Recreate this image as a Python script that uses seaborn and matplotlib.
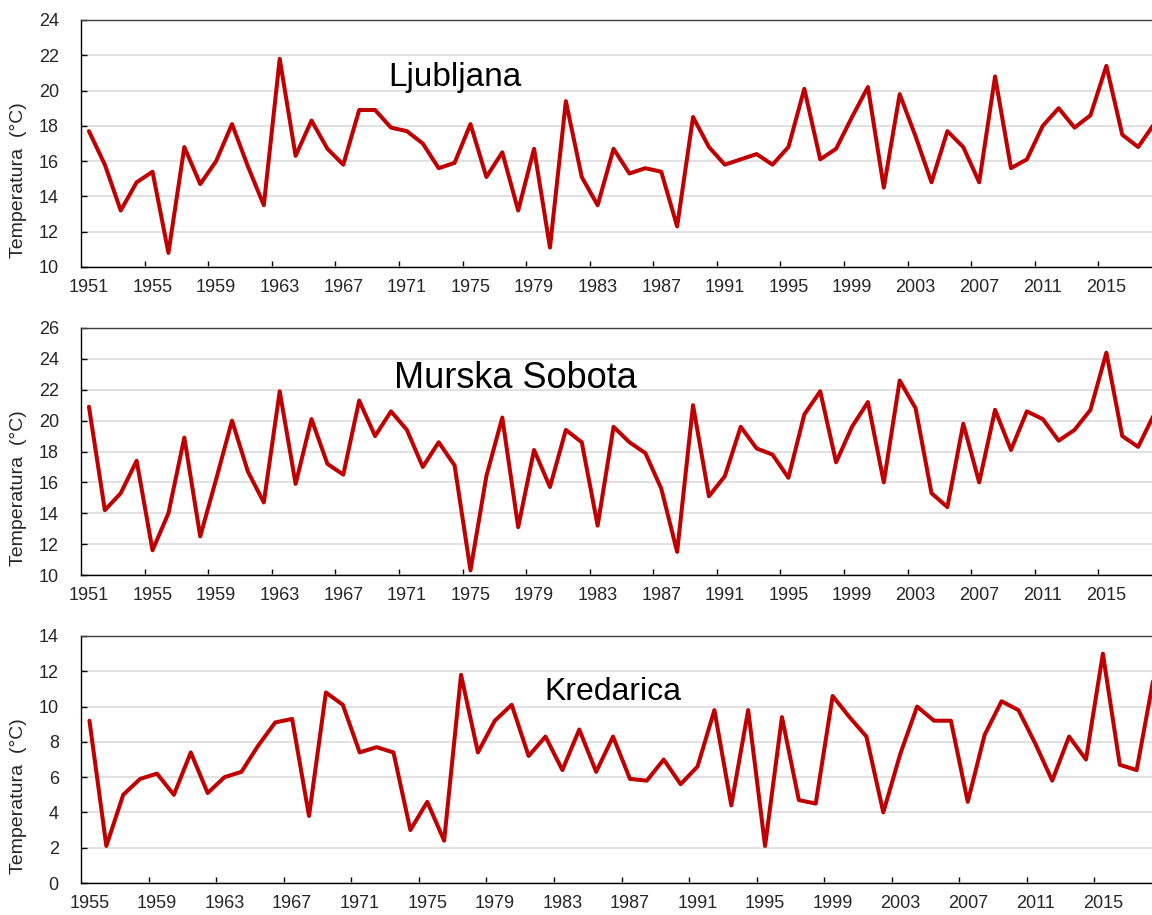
import numpy as np
import pandas as pd
import matplotlib
matplotlib.use("Agg")
import matplotlib.pyplot as plt
import seaborn as sns

ljubljana_years = list(range(1951, 2019))
ljubljana = [17.7, 15.8, 13.2, 14.8, 15.4, 10.8, 16.8, 14.7, 16.0, 18.1,
             15.7, 13.5, 21.8, 16.3, 18.3, 16.7, 15.8, 18.9, 18.9, 17.9,
             17.7, 17.0, 15.6, 15.9, 18.1, 15.1, 16.5, 13.2, 16.7, 11.1,
             19.4, 15.1, 13.5, 16.7, 15.3, 15.6, 15.4, 12.3, 18.5, 16.8,
             15.8, 16.1, 16.4, 15.8, 16.8, 20.1, 16.1, 16.7, 18.5, 20.2,
             14.5, 19.8, 17.4, 14.8, 17.7, 16.8, 14.8, 20.8, 15.6, 16.1,
             18.0, 19.0, 17.9, 18.6, 21.4, 17.5, 16.8, 18.1]

murska_years = list(range(1951, 2019))
murska = [20.9, 14.2, 15.3, 17.4, 11.6, 14.0, 18.9, 12.5, 16.2, 20.0,
          16.7, 14.7, 21.9, 15.9, 20.1, 17.2, 16.5, 21.3, 19.0, 20.6,
          19.4, 17.0, 18.6, 17.1, 10.3, 16.4, 20.2, 13.1, 18.1, 15.7,
          19.4, 18.6, 13.2, 19.6, 18.6, 17.9, 15.6, 11.5, 21.0, 15.1,
          16.4, 19.6, 18.2, 17.8, 16.3, 20.4, 21.9, 17.3, 19.6, 21.2,
          16.0, 22.6, 20.8, 15.3, 14.4, 19.8, 16.0, 20.7, 18.1, 20.6,
          20.1, 18.7, 19.4, 20.7, 24.4, 19.0, 18.3, 20.4]

kredarica_years = list(range(1955, 2019))
kredarica = [9.2, 2.1, 5.0, 5.9, 6.2, 5.0, 7.4, 5.1, 6.0, 6.3,
             7.8, 9.1, 9.3, 3.8, 10.8, 10.1, 7.4, 7.7, 7.4, 3.0,
             4.6, 2.4, 11.8, 7.4, 9.2, 10.1, 7.2, 8.3, 6.4, 8.7,
             6.3, 8.3, 5.9, 5.8, 7.0, 5.6, 6.6, 9.8, 4.4, 9.8,
             2.1, 9.4, 4.7, 4.5, 10.6, 9.4, 8.3, 4.0, 7.3, 10.0,
             9.2, 9.2, 4.6, 8.4, 10.3, 9.8, 7.9, 5.8, 8.3, 7.0,
             13.0, 6.7, 6.4, 11.6]

stations = [
    ("Ljubljana", ljubljana_years, ljubljana, (10, 24), (0.346, 0.768), 24),
    ("Murska Sobota", murska_years, murska, (10, 26), (0.402, 0.797), 26),
    ("Kredarica", kredarica_years, kredarica, (0, 14), (0.492, 0.773), 23),
]

sns.set_style("white")
plt.rcParams['font.family'] = ['Liberation Sans', 'DejaVu Sans']

fig = plt.figure(figsize=(11.52, 9.15), dpi=100)
tops = [20, 328, 636]
line_color = "#C00000"

for (name, years, temps, ylim, txt, fs), top in zip(stations, tops):
    left, right, h = 81, 1162, 247
    ax = fig.add_axes([left / 1152, 1 - (top + h) / 915, (right - left) / 1152, h / 915])
    df = pd.DataFrame({"pos": np.arange(len(years)), "temp": temps})
    sns.lineplot(data=df, x="pos", y="temp", ax=ax, color=line_color, linewidth=2.9)

    ax.set_xlim(-0.5, len(years) - 0.5)
    ax.set_ylim(*ylim)
    ax.set_yticks(np.arange(ylim[0], ylim[1] + 1, 2))
    ax.yaxis.grid(True, color="#d9d9d9", linewidth=1.1)
    ax.set_axisbelow(True)

    # labels every 4 years, tick marks between categories
    label_pos = np.arange(0, len(years), 4)
    ax.set_xticks(label_pos)
    ax.set_xticklabels([str(years[i]) for i in label_pos])
    ax.set_xticks(label_pos[1:] - 0.5, minor=True)
    ax.tick_params(axis="x", which="major", length=0, pad=9, labelsize=13)
    ax.tick_params(axis="x", which="minor", length=4, width=1, direction="in",
                   color="black", bottom=True)
    ax.tick_params(axis="y", length=4, width=1, direction="in", labelsize=13,
                   pad=16, left=True, color="black")

    for s in ax.spines.values():
        s.set_color("black")
        s.set_linewidth(1.0)
    ax.spines["top"].set_color("#404040")

    ax.set_xlabel("")
    ax.set_ylabel("Temperatura  (°C)", fontsize=14)
    ax.yaxis.set_label_coords(-0.05, 0.35)
    ax.text(txt[0], txt[1], name, transform=ax.transAxes, fontsize=fs,
            ha="center", va="center", color="black")

fig.savefig("out.png", dpi=100)
